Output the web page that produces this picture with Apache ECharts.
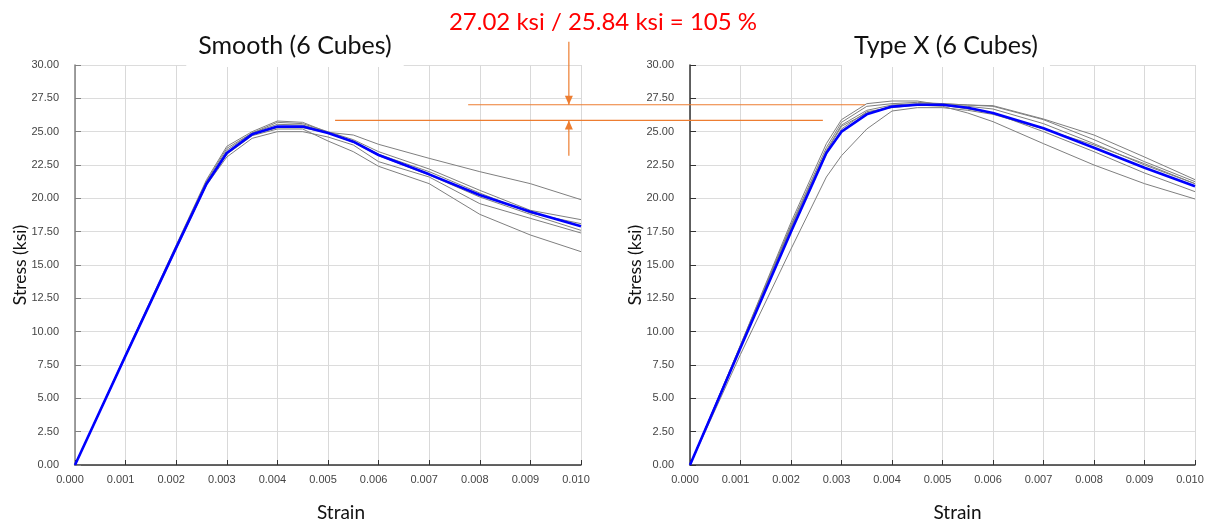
<!DOCTYPE html>
<html>
<head>
<meta charset="utf-8">
<script src="https://cdn.jsdelivr.net/npm/echarts@6/dist/echarts.min.js"></script>
<style>
  html, body { margin: 0; padding: 0; background: #fff; }
  #chart { width: 1207px; height: 525px; }
</style>
</head>
<body>
<div id="chart"></div>
<script>
// ---- Smooth cubes: strain points and stress (ksi) for each cube + mean ----
const smoothStrain = [0, 0.001, 0.002, 0.0026, 0.003, 0.0035, 0.004, 0.0045, 0.005, 0.0055, 0.006, 0.007, 0.008, 0.009, 0.010];
const smoothCubes = [
  [0, 8.3, 16.5, 21.4, 23.9, 25.0, 25.8, 25.7, 24.95, 24.75, 24.05, 23.0, 22.0, 21.1, 19.9],
  [0, 8.25, 16.4, 21.3, 23.75, 24.9, 25.7, 25.6, 25.0, 24.4, 23.5, 22.2, 20.6, 19.1, 18.4],
  [0, 8.2, 16.3, 21.2, 23.6, 24.9, 25.55, 25.5, 24.95, 24.3, 23.3, 22.0, 20.4, 18.9, 18.1],
  [0, 8.2, 16.3, 21.1, 23.4, 24.8, 25.3, 25.3, 24.9, 24.2, 23.2, 21.75, 20.1, 18.8, 17.6],
  [0, 8.15, 16.2, 21.0, 23.1, 24.5, 25.0, 25.0, 24.6, 24.0, 22.75, 21.6, 19.6, 18.5, 17.4],
  [0, 8.2, 16.3, 21.1, 23.3, 24.7, 25.2, 25.2, 24.3, 23.5, 22.4, 21.1, 18.8, 17.25, 16.0]
];
const smoothMean = [0, 8.2, 16.3, 21.1, 23.4, 24.8, 25.38, 25.38, 24.9, 24.25, 23.25, 21.8, 20.25, 19.0, 17.9];

// ---- Type X cubes ----
const typeXStrain = [0, 0.001, 0.002, 0.0027, 0.003, 0.0035, 0.004, 0.0045, 0.005, 0.0055, 0.006, 0.007, 0.008, 0.009, 0.010];
const typeXCubes = [
  [0, 9.0, 18.2, 24.1, 25.9, 27.1, 27.3, 27.3, 27.0, 26.9, 26.7, 25.6, 24.1, 22.5, 21.1],
  [0, 9.0, 18.0, 23.8, 25.7, 26.9, 27.1, 27.2, 27.1, 27.0, 26.95, 25.95, 24.75, 23.1, 21.4],
  [0, 8.9, 17.9, 23.6, 25.5, 26.6, 27.0, 27.1, 27.1, 27.0, 26.9, 25.9, 24.4, 22.75, 21.25],
  [0, 8.9, 17.8, 23.5, 25.4, 26.4, 26.9, 27.0, 27.0, 26.7, 26.4, 25.0, 23.5, 21.9, 20.5],
  [0, 8.9, 17.7, 23.3, 25.2, 26.5, 26.8, 27.0, 26.9, 26.4, 25.75, 24.1, 22.5, 21.1, 19.95],
  [0, 8.3, 16.2, 21.6, 23.2, 25.2, 26.55, 26.8, 26.8, 26.6, 26.3, 25.2, 24.0, 22.6, 21.1]
];
const typeXMean = [0, 8.8, 17.5, 23.4, 25.0, 26.3, 26.88, 27.02, 27.02, 26.8, 26.4, 25.25, 23.8, 22.3, 20.9];

// ---- Peak strengths compared in the headline ----
const peakTypeX = 27.02;
const peakSmooth = 25.84;
const ratioText = peakTypeX.toFixed(2) + ' ksi / ' + peakSmooth.toFixed(2) + ' ksi = ' + Math.round(peakTypeX / peakSmooth * 100) + ' %';

const chartTitles = ['Smooth (6 Cubes)', 'Type X (6 Cubes)'];
const xName = 'Strain';
const yName = 'Stress (ksi)';

const pairs = (xs, ys) => xs.map((x, i) => [x, ys[i]]);

const orange = '#ED7D31';
const titleFont = 'Lato, "Open Sans", sans-serif';
const tickFont = '"Liberation Sans", Arial, sans-serif';

// Plot boxes (px)
const W = 1207;
const plotTop = 65, plotBottom = 60;
const leftBox = { left: 75, right: 626 };
const rightBox = { left: 690, right: 12 };
const strainMax = 0.010;

function xAxisFor(gridIndex, shift) {
  return {
    type: 'value', gridIndex, min: 0, max: strainMax, interval: 0.001,
    name: xName, nameLocation: 'middle', nameGap: 38,
    nameTextStyle: { fontFamily: titleFont, fontSize: 19, color: '#111', padding: [0, 0, 0, shift] },
    axisLine: { show: true, onZero: false, lineStyle: { color: '#333', width: 1.5 } },
    axisTick: { show: true, inside: true, length: 5, lineStyle: { color: '#333' } },
    axisLabel: { margin: 9, fontFamily: tickFont, fontSize: 11, color: '#444', padding: [0, 10, 0, 0], formatter: v => v.toFixed(3) },
    splitLine: { show: true, lineStyle: { color: '#d9d9d9', width: 1 } }
  };
}
// The axis title sits on a white plate that overlaps the first digits of the middle tick labels.
function yAxisFor(gridIndex, axisColor) {
  return {
    type: 'value', gridIndex, min: 0, max: 30, interval: 2.5,
    name: yName, nameLocation: 'middle', nameGap: 36, nameRotate: 90, nameMoveOverlap: false,
    nameTextStyle: { fontFamily: titleFont, fontSize: 17.5, color: '#111', backgroundColor: '#fff', padding: [2, 41, 10, 41] },
    axisLine: { show: true, onZero: false, lineStyle: { color: axisColor, width: 1.5 } },
    axisTick: { show: true, inside: true, length: 6, lineStyle: { color: axisColor } },
    axisLabel: { margin: 16, fontFamily: tickFont, fontSize: 11, color: '#444', padding: [0, 0, 3, 0], formatter: v => v.toFixed(2) },
    splitLine: { show: true, lineStyle: { color: '#dcdcdc', width: 1 } }
  };
}

function cubeSeries(gridIndex, strain, cubes, mean) {
  const out = cubes.map(c => ({
    type: 'line', xAxisIndex: gridIndex, yAxisIndex: gridIndex,
    data: pairs(strain, c), showSymbol: false, silent: true,
    lineStyle: { color: '#7f7f7f', width: 1 }, z: 2
  }));
  out.push({
    type: 'line', xAxisIndex: gridIndex, yAxisIndex: gridIndex,
    data: pairs(strain, mean), showSymbol: false, silent: true,
    lineStyle: { color: '#0000ff', width: 2.6 }, z: 3
  });
  return out;
}

// Overlay spanning both plots for the orange reference lines; its x unit is the
// Smooth chart's strain, carried on across the gap into the Type X chart.
const leftWidth = W - leftBox.left - leftBox.right;
const spanWidth = W - leftBox.left - rightBox.right;
const overlayMax = strainMax * spanWidth / leftWidth;

const refTypeXSpan = [0.00777, 0.01561];
const refSmoothSpan = [0.00514, 0.01478];
const arrowX = 0.00976;
const arrowDownFrom = 31.75;
const arrowUpFrom = 23.2;

function refLine(points) {
  return {
    type: 'line', xAxisIndex: 2, yAxisIndex: 2, clip: false, silent: true, z: 6,
    symbol: 'none', showSymbol: true, animation: false,
    lineStyle: { color: orange, width: 1.2 }, itemStyle: { color: orange },
    data: points
  };
}
const arrowHead = (x, y, down) => ({
  value: [x, y], symbol: 'triangle', symbolSize: [8, 9],
  symbolRotate: down ? 180 : 0, symbolOffset: [0, down ? -4.5 : 4.5]
});
const refSeries = [
  refLine([[refTypeXSpan[0], peakTypeX], [refTypeXSpan[1], peakTypeX]]),
  refLine([[refSmoothSpan[0], peakSmooth], [refSmoothSpan[1], peakSmooth]]),
  refLine([[arrowX, arrowDownFrom], arrowHead(arrowX, peakTypeX, true)]),
  refLine([[arrowX, arrowUpFrom], arrowHead(arrowX, peakSmooth, false)])
];

const titleStyle = { fontFamily: titleFont, fontSize: 25, fontWeight: 'normal', color: '#111', lineHeight: 30 };

const chart = echarts.init(document.getElementById('chart'), null, { renderer: 'canvas' });
chart.setOption({
  animation: false,
  backgroundColor: '#fff',
  title: [
    { text: chartTitles[0], left: 283, top: 23, textAlign: 'center', backgroundColor: '#fff', padding: [8, 12, 6, 12], textStyle: titleStyle },
    { text: chartTitles[1], left: 934, top: 23, textAlign: 'center', backgroundColor: '#fff', padding: [8, 12, 6, 12], textStyle: titleStyle },
    { text: ratioText, left: 603, top: 7, textAlign: 'center', padding: 0,
      textStyle: { fontFamily: titleFont, fontSize: 24, fontWeight: 'normal', color: '#ff0000', lineHeight: 30 } }
  ],
  grid: [
    { left: leftBox.left, right: leftBox.right, top: plotTop, bottom: plotBottom, containLabel: false, outerBoundsMode: 'none' },
    { left: rightBox.left, right: rightBox.right, top: plotTop, bottom: plotBottom, containLabel: false, outerBoundsMode: 'none' },
    { left: leftBox.left, right: rightBox.right, top: plotTop, bottom: plotBottom, containLabel: false, outerBoundsMode: 'none', show: false }
  ],
  xAxis: [xAxisFor(0, 26), xAxisFor(1, 30),
    { type: 'value', gridIndex: 2, min: 0, max: overlayMax, show: false, splitLine: { show: false } }],
  yAxis: [yAxisFor(0, '#808080'), yAxisFor(1, '#333'),
    { type: 'value', gridIndex: 2, min: 0, max: 30, show: false, splitLine: { show: false } }],
  series: [
    ...cubeSeries(0, smoothStrain, smoothCubes, smoothMean),
    ...cubeSeries(1, typeXStrain, typeXCubes, typeXMean),
    ...refSeries
  ]
});
</script>
</body>
</html>
